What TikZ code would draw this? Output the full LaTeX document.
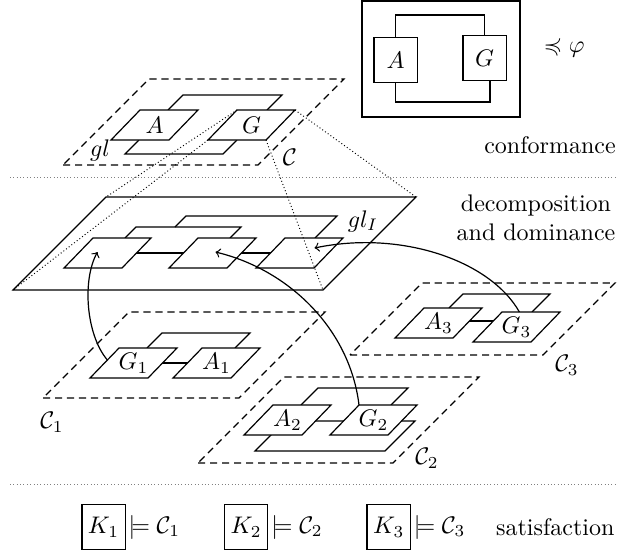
\documentclass[tikz,border=0pt]{standalone}
\usepackage{amssymb}
\usetikzlibrary{calc, positioning}

% a component drawn flat in an oblique plane
\newcommand{\wcell}[4]{%
  \draw[cell] (#2,#3) coordinate (#1-bl) -- ++(58,0) coordinate (#1-br)
    -- ++(29,-30) coordinate (#1-tr) -- ++(-58,0) coordinate (#1-tl) -- cycle;
  \node (#1) at (#2+43.5,#3-15) {#4};}
% an oblique plane
\newcommand{\wplane}[6]{%
  \draw[#1] (#3,#4) coordinate (#2-bl) -- ++(#5,0) coordinate (#2-br)
    -- ++(#6,-#6) coordinate (#2-tr) -- ++(-#5,0) coordinate (#2-tl) -- cycle;}

\begin{document}
\begin{tikzpicture}[
    x=0.4167pt, y=-0.4167pt, line width=0.5pt,
    cell/.style={draw, fill=white},
    comp/.style={draw, minimum width=18pt, minimum height=19pt, inner sep=2pt},
    ctx/.style={densely dashed},
    sep/.style={densely dotted, gray, line width=0.4pt},
    proj/.style={densely dotted, line width=0.4pt},
  ]
  \useasboundingbox (0,0) rectangle (617,557);
  \draw[sep] (10,177) -- (617,177);
  \draw[sep] (10,484) -- (617,484);

  % specification
  \node[draw, minimum width=65.8pt, minimum height=48.3pt] (spec) at (441,59) {};
  \node[comp] (specA) at (395.5,60) {$A$};
  \node[comp] (specG) at (484.5,58) {$G$};
  \draw (specA.north) |- (440,15) -| (specG.north);
  \draw (specA.south) |- (440,102) -| ($(specG.south)+(5.5,0)$);
  \node (prec) at (564,47) {$\preccurlyeq\varphi$};
  \node (conf) at (550,145) {conformance};

  % context C
  \wplane{ctx}{pC}{63}{165}{195}{86}
  \draw (139,140) -- (125,154) -- (223,154) -- (237,140);
  \draw (168,110) -- (183,95) -- (282,95) -- (267,110);
  \wcell{cA}{111}{140}{$A$}
  \wcell{cG}{208}{140}{$G$}
  \node (gl) at (100,150) {$gl$};
  \node (cC) at (290,157) {$\mathcal{C}$};

  % interface
  \wplane{draw}{pI}{13}{290}{310}{93}
  \draw (125,238) -- (136,227) -- (241,227) -- (230,238);
  \draw (175,227) -- (186,216) -- (337,216) -- (315,238);
  \draw (107.5,253) -- (299.5,253);
  \wcell{d1}{64}{268}{}
  \wcell{d2}{169}{268}{}
  \wcell{d3}{256}{268}{}
  \node (glI) at (363,221) {$gl_I$};
  \node[align=center] (dec) at (536,218) {decomposition\\and dominance};

  % C1
  \wplane{ctx}{p1}{43}{398}{196}{86}
  \draw (147,348) -- (162,333) -- (250,333) -- (235,348);
  \draw (133.5,363) -- (216.5,363);
  \wcell{g1}{90}{378}{$G_1$}
  \wcell{a1}{173}{378}{$A_1$}
  \node (c1) at (52,422) {$\mathcal{C}_1$};

  % C2
  \wplane{ctx}{p2}{198}{463}{195}{86}
  \draw[cell] (285,421) -- (415,421) -- (385,451) -- (255,451) -- cycle;
  \draw (301,405) -- (318,388) -- (408,388) -- (391,405);
  \wcell{a2}{244}{435}{$A_2$}
  \wcell{g2}{330}{435}{$G_2$}
  \node (c2) at (427,458) {$\mathcal{C}_2$};

  % C3
  \wplane{ctx}{p3}{350}{355}{193}{72}
  \draw (449,308) -- (463,294) -- (550,294) -- (532,312);
  \draw (438.5,321) -- (516.5,321);
  \wcell{a3}{395}{338}{$A_3$}
  \wcell{g3}{473}{342}{$G_3$}
  \node (c3) at (567,365) {$\mathcal{C}_3$};

  % projection of G onto the interface
  \foreach \k in {tl,tr,bl,br} \draw[proj] (cG-\k) -- (pI-\k);

  % G_i land in the interface
  \draw[->] ($(g1-bl)!0.6!(g1-tl)$) .. controls (86,335) and (82,280) .. ($(d1)+(-10,-1)$);
  \draw[->] (g2-tl) .. controls (350,330) and (290,270) .. ($(d2)+(3,-1)$);
  \draw[->] ($(g3-tl)!0.3!(g3-tr)$) .. controls (490,260) and (400,230) .. ($(d3)+(15,-5)$);

  % satisfaction
  \node[comp] (k1) at (103.5,527) {$K_1$};
  \node[right=0pt of k1, inner sep=1pt] (m1) {$\models\mathcal{C}_1$};
  \node[comp, right=17pt of m1] (k2) {$K_2$};
  \node[right=0pt of k2, inner sep=1pt] (m2) {$\models\mathcal{C}_2$};
  \node[comp, right=17pt of m2] (k3) {$K_3$};
  \node[right=0pt of k3, inner sep=1pt] (m3) {$\models\mathcal{C}_3$};
  \node[right=8pt of m3] (sat) {satisfaction};
\end{tikzpicture}
\end{document}
